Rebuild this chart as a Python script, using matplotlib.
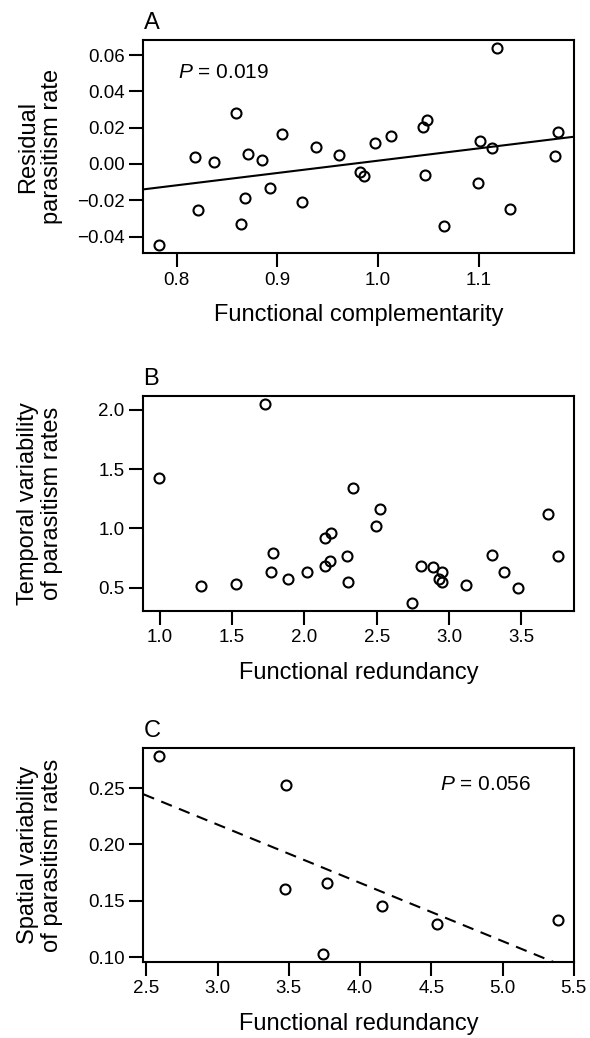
import numpy as np
import matplotlib
matplotlib.use("Agg")
import matplotlib.pyplot as plt
from matplotlib.ticker import FixedLocator, FuncFormatter

plt.rcParams['font.family'] = ['Liberation Sans', 'DejaVu Sans']
plt.rcParams['mathtext.fontset'] = 'custom'
plt.rcParams['mathtext.rm'] = 'Liberation Sans'
plt.rcParams['mathtext.it'] = 'Liberation Sans:italic'

# panel A: functional complementarity vs residual parasitism rate
compl_x = [0.783, 0.818, 0.821, 0.837, 0.859, 0.864, 0.868, 0.871, 0.885, 0.893,
           0.905, 0.925, 0.939, 0.961, 0.982, 0.986, 0.997, 1.013, 1.045, 1.049,
           1.047, 1.066, 1.099, 1.101, 1.113, 1.118, 1.131, 1.176, 1.179]
resid_y = [-0.0449, 0.0037, -0.0254, 0.0013, 0.0283, -0.0329, -0.0190, 0.0057, 0.0020, -0.0135,
           0.0163, -0.0208, 0.0093, 0.0047, -0.0046, -0.0064, 0.0115, 0.0153, 0.0203, 0.0241,
           -0.0060, -0.0343, -0.0106, 0.0126, 0.0089, 0.0637, -0.0250, 0.0046, 0.0177]
fitA = (-0.06605, 0.06783)  # intercept, slope
pA = "0.019"

# panel B: functional redundancy vs temporal variability
redB_x = [0.998, 1.288, 1.529, 1.727, 1.780, 1.771, 1.884, 2.017, 2.139, 2.181,
          2.144, 2.174, 2.296, 2.301, 2.333, 2.492, 2.524, 2.743, 2.807, 2.888,
          2.950, 2.931, 2.948, 3.120, 3.293, 3.378, 3.479, 3.686, 3.753]
temp_y = [1.426, 0.517, 0.528, 2.051, 0.795, 0.629, 0.570, 0.629, 0.916, 0.961,
          0.686, 0.725, 0.764, 0.550, 1.341, 1.021, 1.164, 0.373, 0.683, 0.674,
          0.635, 0.576, 0.550, 0.525, 0.776, 0.629, 0.494, 1.119, 0.770]

# panel C: functional redundancy vs spatial variability
redC_x = [2.591, 3.480, 3.471, 3.768, 3.740, 4.152, 4.543, 5.390]
spat_y = [0.2782, 0.2529, 0.1609, 0.1656, 0.1032, 0.1459, 0.1297, 0.1329]
fitC = (0.3724, -0.0516)
pC = "0.056"

ticksA_x = [0.8, 0.9, 1.0, 1.1]
ticksA_y = [-0.04, -0.02, 0.00, 0.02, 0.04, 0.06]
ticksB_x = [1.0, 1.5, 2.0, 2.5, 3.0, 3.5]
ticksB_y = [0.5, 1.0, 1.5, 2.0]
ticksC_x = [2.5, 3.0, 3.5, 4.0, 4.5, 5.0, 5.5]
ticksC_y = [0.10, 0.15, 0.20, 0.25]

fig = plt.figure(figsize=(5.9, 10.38), dpi=100)
axA = fig.add_axes([0.2432, 0.7560, 0.7297, 0.2050])
axB = fig.add_axes([0.2432, 0.4117, 0.7297, 0.2068])
axC = fig.add_axes([0.2432, 0.0735, 0.7297, 0.2056])


def fmt(nd):
    return FuncFormatter(lambda v, p: ('%.*f' % (nd, v)).replace('-', '\u2212'))


def style(ax, x, y, xt, yt, xd, yd, xlabel, ylabel, letter):
    ax.plot(x, y, 'o', mfc='none', mec='black', ms=7.2, mew=1.5)
    ax.margins(0.04)
    ax.set_xlim(ax.get_xlim())
    ax.set_ylim(ax.get_ylim())
    ax.xaxis.set_major_locator(FixedLocator(xt))
    ax.yaxis.set_major_locator(FixedLocator(yt))
    ax.xaxis.set_major_formatter(fmt(xd))
    ax.yaxis.set_major_formatter(fmt(yd))
    ax.tick_params(direction='out', length=10, width=1.5, labelsize=13.5, pad=3.5)
    for s in ax.spines.values():
        s.set_linewidth(1.5)
    ax.set_xlabel(xlabel, fontsize=17, labelpad=11)
    ax.text(-0.24, 0.5, ylabel, transform=ax.transAxes, rotation=90,
            ha='center', va='center', fontsize=17, linespacing=1.15,
            multialignment='center')
    ax.annotate(letter, xy=(0, 1), xycoords='axes fraction', xytext=(0, 8),
                textcoords='offset points', ha='left', va='baseline', fontsize=17)


def fit_line(ax, coef, **kw):
    xs = np.array(ax.get_xlim())
    ax.plot(xs, coef[0] + coef[1] * xs, color='black', lw=1.5,
            scalex=False, scaley=False, **kw)


style(axA, compl_x, resid_y, ticksA_x, ticksA_y, 1, 2,
      'Functional complementarity', 'Residual\nparasitism rate', 'A')
fit_line(axA, fitA)
axA.text(0.081, 0.849, r'$P$ = ' + pA, transform=axA.transAxes,
         ha='left', va='center', fontsize=15)

style(axB, redB_x, temp_y, ticksB_x, ticksB_y, 1, 1,
      'Functional redundancy', 'Temporal variability\nof parasitism rates', 'B')

style(axC, redC_x, spat_y, ticksC_x, ticksC_y, 1, 2,
      'Functional redundancy', 'Spatial variability\nof parasitism rates', 'C')
fit_line(axC, fitC, dashes=(5.5, 3.7))
axC.text(0.688, 0.831, r'$P$ = ' + pC, transform=axC.transAxes,
         ha='left', va='center', fontsize=15)

fig.savefig('out.png', dpi=100)
